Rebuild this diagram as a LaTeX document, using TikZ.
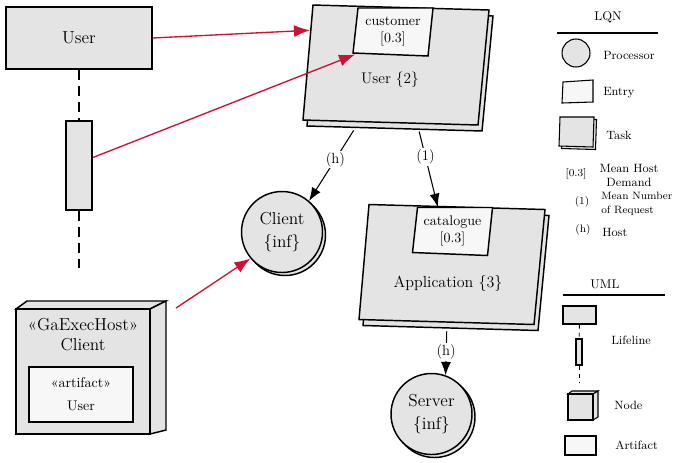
\documentclass[tikz,border=0pt]{standalone}
\usepackage{fontspec}
\usepackage{xcolor}
\usepackage{tikz}
\usetikzlibrary{arrows.meta, shadows}

\definecolor{lqngray}{RGB}{228,228,228}
\definecolor{lqnwhite}{RGB}{247,247,247}
\definecolor{callred}{RGB}{208,16,52}

\begin{document}
\begin{tikzpicture}[x=0.75pt, y=-0.75pt,
    box/.style = {draw, line width=1.1pt, fill=lqngray},
    entrybox/.style = {draw, line width=1.1pt, fill=lqnwhite},
    lifehead/.style = {box, minimum width=109.5pt, minimum height=46.5pt, font=\fontsize{13}{15}\selectfont},
    activation/.style = {box, inner sep=0pt, minimum width=19.5pt, minimum height=66.75pt},
    lifeline/.style = {line width=0.9pt, dash pattern=on 7.5pt off 4.5pt},
    area/.style = {inner sep=0pt, outer sep=0pt, minimum width=129pt, minimum height=86.25pt},
    entryarea/.style = {inner sep=0pt, outer sep=0pt, minimum width=57pt, minimum height=35.25pt, align=center, font=\fontsize{10.5}{12.75}\selectfont},
    tasklabel/.style = {font=\fontsize{11.5}{14}\selectfont},
    processor/.style = {box, circle, inner sep=0pt, minimum size=60.75pt, align=center, font=\fontsize{13}{17}\selectfont,
        copy shadow={shadow xshift=2.25pt, shadow yshift=-2.25pt, draw, fill=lqngray, line width=1.1pt}},
    hostlabel/.style = {align=center, font=\fontsize{13}{15}\selectfont},
    artifact/.style = {entrybox, inner sep=0pt, minimum width=78pt, minimum height=41.25pt, align=center, font=\fontsize{10.5}{17}\selectfont},
    call/.style = {callred, line width=1pt, -{Latex[length=12pt, width=9pt]}},
    request/.style = {line width=0.8pt, -{Latex[length=10pt, width=7.5pt]}},
    edgelabel/.style = {fill=white, inner sep=1pt, font=\fontsize{11}{13}\selectfont},
    legendhead/.style = {font=\fontsize{9.5}{11}\selectfont},
    legend/.style = {inner sep=0pt, font=\fontsize{9}{11}\selectfont},
    legendsym/.style = {font=\fontsize{8}{10}\selectfont},
    legendbox/.style = {box, line width=0.8pt, inner sep=0pt},
    pics/taskshape/.style = {code={
        \filldraw[box, shift={(4,6)}] (-83,-60) -- (93,-55) -- (82,60) -- (-93,55) -- cycle;
        \filldraw[box] (-83,-60) -- (93,-55) -- (82,60) -- (-93,55) -- cycle;
    }},
    pics/entryshape/.style = {code={
        \filldraw[entrybox] (-35,-23) -- (40,-23) -- (35,25) -- (-40,22) -- cycle;
    }}]
    \useasboundingbox (0,0) rectangle (673,462);

    \node [lifehead] (userhead) at (79,38) {User};
    \node [activation] (useract) at (79,165.5) {};
    \coordinate (userend) at (79,268);
    \draw [lifeline] (userhead) -- (useract);
    \draw [lifeline] (useract) -- (userend);

    \pic at (396,65) {taskshape};
    \node [area] (usertask) at (396,65) {};
    \pic at (393,31) {entryshape};
    \node [entryarea] (customer) at (393,31) {customer\\{[0.3]}};
    \node [tasklabel] (usertaskname) at (390,80) {User \{2\}};

    \pic at (452,264.5) {taskshape};
    \node [area] (apptask) at (452,264.5) {};
    \pic at (452.5,230.5) {entryshape};
    \node [entryarea] (catalogue) at (452.5,230.5) {catalogue\\{[0.3]}};
    \node [tasklabel, font=\fontsize{12}{14}\selectfont] (apptaskname) at (448,283) {Application \{3\}};

    \node [processor] (client) at (282,232) {Client\\\{inf\}};
    \node [processor] (server) at (431.5,414) {Server\\\{inf\}};

    \filldraw [box] (16,309) -- (27,301) -- (166,301) -- (150,309) -- cycle;
    \filldraw [box] (150,309) -- (166,301) -- (166,430) -- (150,434) -- cycle;
    \filldraw [box] (16,309) rectangle (150,434);
    \node [area, minimum width=112.5pt, minimum height=99.75pt] (clienthost) at (91,367.5) {};
    \node [hostlabel] (hostname) at (83,335) {«GaExecHost»\\Client};
    \node [artifact] (userartifact) at (81,394.5) {«artifact»\\User};

    \draw [call] (userhead.east) -- (usertask.158);
    \draw [call] (useract.30) -- (customer.south west);
    \draw [call] ([shift={(10,7)}]clienthost.north east) -- (client.220);
    \draw [request, shorten <=7pt] (usertask.237) -- node [edgelabel, pos=0.47] (hostlabel1) {(h)} (client.49);
    \draw [request, shorten <=7pt] (usertask.290) -- node [edgelabel, pos=0.41] (reqlabel) {(1)} (catalogue.122);
    \draw [request, shorten <=7pt] (apptask.265) -- node [edgelabel, pos=0.56] (hostlabel2) {(h)} (server.70);

    % legend
    \node [legendhead] (lqnhead) at (608,17) {LQN};
    \draw [line width=0.8pt] (557,33) -- (658,33);
    \node [legendbox, circle, minimum size=21pt] (legproc) at (576,53) {};
    \node [legend, anchor=west] (legproctext) at (603,55) {Processor};
    \filldraw [entrybox, line width=0.8pt] (563,82) -- (593,80) -- (593,102) -- (562,103) -- cycle;
    \node [legend, anchor=west] (legentrytext) at (603,93) {Entry};
    \filldraw [legendbox, shift={(2.5,2.5)}] (560,117) -- (594,117) -- (593,147) -- (559,146) -- cycle;
    \filldraw [legendbox] (560,117) -- (594,117) -- (593,147) -- (559,146) -- cycle;
    \node [legend, anchor=west] (legtasktext) at (606,135) {Task};
    \node [legendsym] (legdemand) at (576,174) {[0.3]};
    \node [legend, align=center] (legdemandtext) at (629,175.5) {Mean Host\\Demand};
    \node [legendsym] (legcalls) at (582,202) {(1)};
    \node [legend, align=left, anchor=west, font=\fontsize{8}{10.5}\selectfont] (legcallstext) at (601,204) {Mean Number\\of Request};
    \node [legendsym] (leghost) at (583,230) {(h)};
    \node [legend, anchor=west] (leghosttext) at (602,232) {Host};

    \node [legendhead] (umlhead) at (605,284) {UML};
    \draw [line width=0.8pt] (563,295) -- (665,295);
    \node [legendbox, minimum width=24.75pt, minimum height=13.5pt] (leghead) at (579.5,315) {};
    \node [legendbox, minimum width=4.5pt, minimum height=19.5pt] (legact) at (579,352) {};
    \coordinate (leglifeend) at (579,382);
    \draw [line width=0.7pt, dash pattern=on 3pt off 3pt] (leghead) -- (legact);
    \draw [line width=0.7pt, dash pattern=on 3pt off 3pt] (legact) -- (leglifeend);
    \node [legend, anchor=west] (leglifetext) at (611,340) {Lifeline};
    \filldraw [legendbox] (568,394) -- (572,391) -- (598,391) -- (593,394) -- cycle;
    \filldraw [legendbox] (593,394) -- (598,391) -- (598,417) -- (593,420) -- cycle;
    \filldraw [legendbox] (568,394) rectangle (593,420);
    \node [legend, anchor=west] (legnodetext) at (614,405) {Node};
    \node [entrybox, line width=0.8pt, inner sep=0pt, minimum width=23.25pt, minimum height=14.25pt] (legartifact) at (580.5,445.5) {};
    \node [legend, anchor=west] (legartifacttext) at (615,445) {Artifact};
\end{tikzpicture}
\end{document}
